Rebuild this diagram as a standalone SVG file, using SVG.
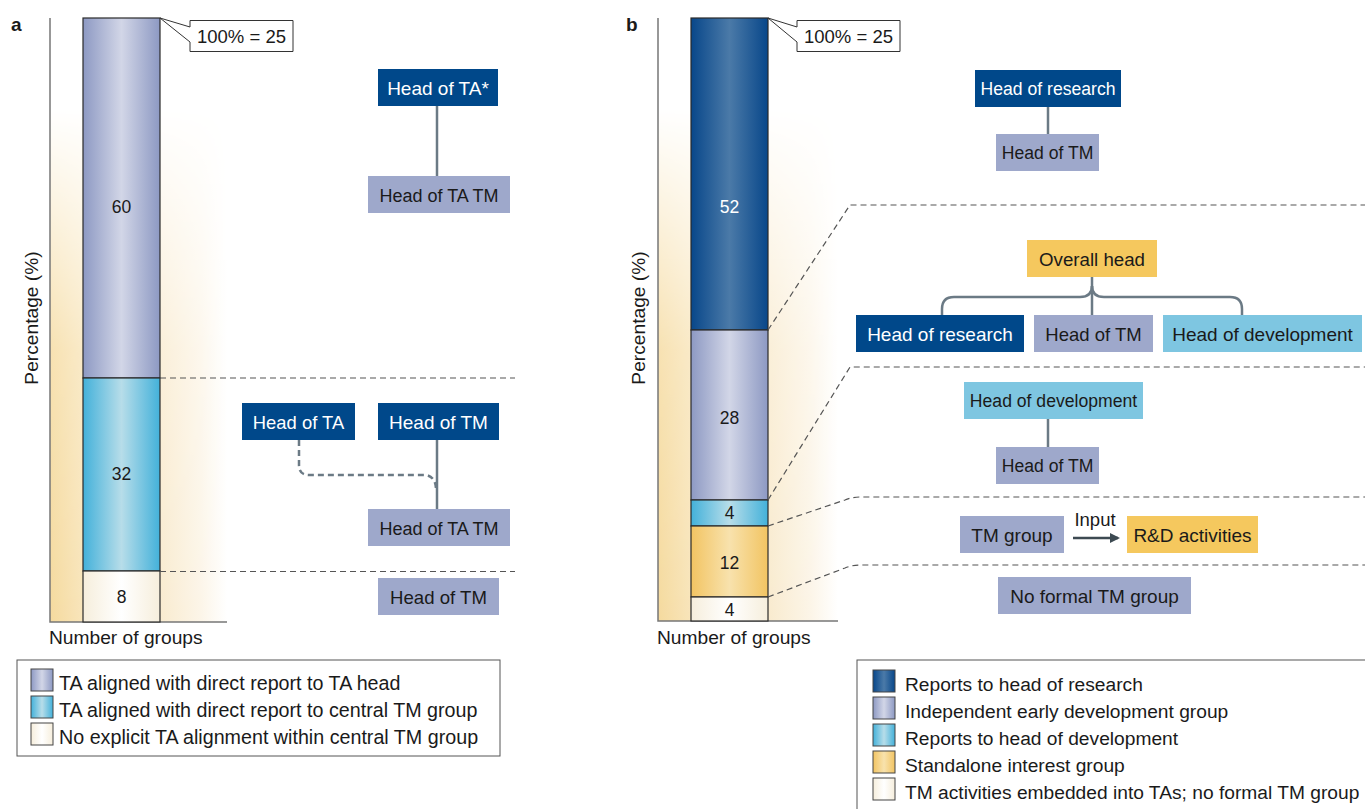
<svg xmlns="http://www.w3.org/2000/svg" width="1365" height="809" viewBox="0 0 1365 809">
<defs>
<style>
text{font-family:"Liberation Sans",Arial,sans-serif;fill:#1a1a1a}
.nt{font-size:19px;text-anchor:middle}
.sm{font-size:17.6px}
.wt{fill:#ffffff}
.num{font-size:17.5px;text-anchor:middle}
.lga{font-size:19.7px}
.lgb{font-size:19.2px}
.ax{font-size:19.2px}
.dk{fill:#00488a}
.lv{fill:#9ea8cb}
.cy{fill:#7ec6e1}
.ye{fill:#f5c85e}
.con{fill:none;stroke:#6b7a85;stroke-width:2.5}
.dash{fill:none;stroke:#555;stroke-width:1.2;stroke-dasharray:6 4}
.bar{stroke:#2a2a2a;stroke-width:1.2}
.axis{stroke:#777;stroke-width:1.5;fill:none}
.sw{stroke:#444;stroke-width:1}
</style>
<linearGradient id="gLv" x1="0" x2="1" y1="0" y2="0"><stop offset="0" stop-color="#8d99c3"/><stop offset="0.5" stop-color="#d2d6e7"/><stop offset="1" stop-color="#8d99c3"/></linearGradient>
<linearGradient id="gCy" x1="0" x2="1" y1="0" y2="0"><stop offset="0" stop-color="#43b1da"/><stop offset="0.5" stop-color="#b7dde9"/><stop offset="1" stop-color="#43b1da"/></linearGradient>
<linearGradient id="gDk" x1="0" x2="1" y1="0" y2="0"><stop offset="0" stop-color="#08478a"/><stop offset="0.5" stop-color="#4b7aa8"/><stop offset="1" stop-color="#08478a"/></linearGradient>
<linearGradient id="gYe" x1="0" x2="1" y1="0" y2="0"><stop offset="0" stop-color="#f2c462"/><stop offset="0.5" stop-color="#f8e2ad"/><stop offset="1" stop-color="#f2c462"/></linearGradient>
<linearGradient id="gCr" x1="0" x2="1" y1="0" y2="0"><stop offset="0" stop-color="#f6eedc"/><stop offset="0.5" stop-color="#ffffff"/><stop offset="1" stop-color="#f6eedc"/></linearGradient>
<linearGradient id="gBg" x1="0" x2="1" y1="0" y2="0"><stop offset="0" stop-color="#f5da9e"/><stop offset="0.19" stop-color="#f8e5bb"/><stop offset="0.62" stop-color="#f9ebcf"/><stop offset="0.85" stop-color="#fcf5e8"/><stop offset="1" stop-color="#ffffff"/></linearGradient>
<linearGradient id="gMask" x1="0" x2="0" y1="0" y2="1"><stop offset="0" stop-color="#000"/><stop offset="0.15" stop-color="#000"/><stop offset="0.55" stop-color="#ccc"/><stop offset="1" stop-color="#fff"/></linearGradient>
<mask id="mA" maskUnits="userSpaceOnUse" x="0" y="0" width="1365" height="809"><rect x="50" y="18" width="177" height="604" fill="url(#gMask)"/></mask>
<mask id="mB" maskUnits="userSpaceOnUse" x="0" y="0" width="1365" height="809"><rect x="658" y="18" width="180" height="603" fill="url(#gMask)"/></mask>
<marker id="arr" markerWidth="10" markerHeight="10" refX="8" refY="5" orient="auto" markerUnits="userSpaceOnUse"><path d="M0,0 L10,5 L0,10 Z" fill="#3d4a52"/></marker>
</defs>
<rect width="1365" height="809" fill="#ffffff"/>

<!-- Panel a chart -->
<g id="chart-a">
<rect x="50" y="18" width="177" height="604" fill="url(#gBg)" mask="url(#mA)"/>
<text x="11" y="31" style="font-size:19px;font-weight:bold">a</text>
<path class="axis" d="M50,18 V622 H227"/>
<rect class="bar" x="83" y="18" width="77" height="360" fill="url(#gLv)"/>
<rect class="bar" x="83" y="378" width="77" height="193" fill="url(#gCy)"/>
<rect class="bar" x="83" y="571" width="77" height="51" fill="url(#gCr)"/>
<text class="num" x="121.5" y="213">60</text>
<text class="num" x="121.5" y="480">32</text>
<text class="num" x="121.5" y="603">8</text>
<path d="M190,20.5 H293 V51.5 H190 V42 L160,18 L190,27 Z" fill="#fff" stroke="#333" stroke-width="1"/>
<text x="241.5" y="43" style="font-size:18.5px;text-anchor:middle">100% = 25</text>
<text class="ax" transform="translate(38,318) rotate(-90)" text-anchor="middle">Percentage (%)</text>
<text class="ax" x="49" y="644">Number of groups</text>
</g>

<!-- Panel b chart -->
<g id="chart-b">
<rect x="658" y="18" width="180" height="603" fill="url(#gBg)" mask="url(#mB)"/>
<text x="626" y="31" style="font-size:19px;font-weight:bold">b</text>
<path class="axis" d="M658,18 V621 H838"/>
<rect class="bar" x="691" y="18" width="77" height="312" fill="url(#gDk)"/>
<rect class="bar" x="691" y="330" width="77" height="170" fill="url(#gLv)"/>
<rect class="bar" x="691" y="500" width="77" height="26" fill="url(#gCy)"/>
<rect class="bar" x="691" y="526" width="77" height="71" fill="url(#gYe)"/>
<rect class="bar" x="691" y="597" width="77" height="24" fill="url(#gCr)"/>
<text class="num wt" x="729.5" y="213">52</text>
<text class="num" x="729.5" y="424">28</text>
<text class="num" x="729.5" y="519">4</text>
<text class="num" x="729.5" y="569">12</text>
<text class="num" x="729.5" y="616">4</text>
<path d="M797,20.5 H900 V51.5 H797 V42 L768,18 L797,27 Z" fill="#fff" stroke="#333" stroke-width="1"/>
<text x="848.5" y="43" style="font-size:18.5px;text-anchor:middle">100% = 25</text>
<text class="ax" transform="translate(645,318) rotate(-90)" text-anchor="middle">Percentage (%)</text>
<text class="ax" x="657" y="644">Number of groups</text>
</g>

<!-- Connectors -->
<g id="connectors">
<path class="dash" d="M160,378 H515"/>
<path class="dash" d="M160,571.5 H515"/>
<path class="con" d="M437,106 V176"/>
<path class="con" d="M437,440 V509"/>
<path class="con" style="stroke-dasharray:6 4" d="M299,440 V465 Q299,475 309,475 H426 Q436,477 436,490"/>
<path class="dash" d="M768,330 L850,205 H1365"/>
<path class="dash" d="M768,500 L850,367 H1365"/>
<path class="dash" d="M768,526 L845,500 Q852,497 860,497 H1365"/>
<path class="dash" d="M768,597 L845,568 Q852,565 860,565 H1365"/>
<path class="con" d="M1048,107 V134"/>
<path class="con" d="M1092,277 V315"/>
<path class="con" d="M1092,286 Q1092,297 1080,297 H954 Q942,297 942,309 V315"/>
<path class="con" d="M1092,286 Q1092,297 1104,297 H1230 Q1242,297 1242,309 V315"/>
<path class="con" d="M1048,419 V447"/>
<path d="M1073,538 H1118" stroke="#3d4a52" stroke-width="2.5" fill="none" marker-end="url(#arr)"/>
<text x="1095" y="526" style="font-size:18.5px;text-anchor:middle">Input</text>
</g>

<!-- Panel a nodes -->
<g id="a-headTAstar"><rect class="dk" x="378" y="69" width="120" height="37"/><text class="nt wt" x="438" y="94.5">Head of TA*</text></g>
<g id="a-headTATM1"><rect class="lv" x="368" y="176" width="142" height="37"/><text class="nt" x="439" y="201.5" style="font-size:18px">Head of TA TM</text></g>
<g id="a-headTA"><rect class="dk" x="242" y="403" width="113" height="37"/><text class="nt wt" x="298.5" y="428.5" style="font-size:18.4px">Head of TA</text></g>
<g id="a-headTM1"><rect class="dk" x="378" y="403" width="121" height="37"/><text class="nt wt" x="438.5" y="428.5">Head of TM</text></g>
<g id="a-headTATM2"><rect class="lv" x="368" y="509" width="142" height="37"/><text class="nt" x="439" y="534.5" style="font-size:18px">Head of TA TM</text></g>
<g id="a-headTM2"><rect class="lv" x="378" y="578" width="121" height="37"/><text class="nt" x="438.5" y="603.5" style="font-size:18.6px">Head of TM</text></g>

<!-- Panel b nodes -->
<g id="b-research1"><rect class="dk" x="975" y="70" width="146" height="37"/><text class="nt sm wt" x="1048" y="95">Head of research</text></g>
<g id="b-tm1"><rect class="lv" x="996" y="134" width="103" height="37"/><text class="nt sm" x="1047.5" y="159">Head of TM</text></g>
<g id="b-overall"><rect class="ye" x="1027" y="240" width="130" height="37"/><text class="nt" x="1092" y="265.5" style="font-size:18.7px">Overall head</text></g>
<g id="b-research2"><rect class="dk" x="856" y="315" width="168" height="37"/><text class="nt wt" x="940" y="340.5">Head of research</text></g>
<g id="b-tm2"><rect class="lv" x="1034" y="315" width="119" height="37"/><text class="nt" x="1093.5" y="340.5" style="font-size:18.5px">Head of TM</text></g>
<g id="b-dev1"><rect class="cy" x="1163" y="315" width="199" height="37"/><text class="nt" x="1262.5" y="340.5">Head of development</text></g>
<g id="b-dev2"><rect class="cy" x="964" y="382" width="179" height="37"/><text class="nt sm" x="1053.5" y="407">Head of development</text></g>
<g id="b-tm3"><rect class="lv" x="996" y="447" width="103" height="37"/><text class="nt sm" x="1047.5" y="472">Head of TM</text></g>
<g id="b-tmgroup"><rect class="lv" x="960" y="516" width="104" height="37"/><text class="nt" x="1012" y="541.5">TM group</text></g>
<g id="b-rd"><rect class="ye" x="1127" y="516" width="131" height="37"/><text class="nt" x="1192.5" y="541.5">R&amp;D activities</text></g>
<g id="b-noformal"><rect class="lv" x="998" y="577" width="193" height="37"/><text class="nt" x="1094.5" y="602.5">No formal TM group</text></g>

<!-- Legends -->
<g id="legend-a">
<rect x="17" y="660" width="483" height="96" fill="#fff" stroke="#555" stroke-width="1"/>
<rect class="sw" x="31" y="669" width="22" height="22" fill="url(#gLv)"/>
<rect class="sw" x="31" y="696" width="22" height="22" fill="url(#gCy)"/>
<rect class="sw" x="31" y="723" width="22" height="22" fill="url(#gCr)"/>
<text class="lga" x="59" y="690">TA aligned with direct report to TA head</text>
<text class="lga" x="59" y="717">TA aligned with direct report to central TM group</text>
<text class="lga" x="59" y="744">No explicit TA alignment within central TM group</text>
</g>
<g id="legend-b">
<rect x="857" y="660" width="520" height="160" fill="#fff" stroke="#555" stroke-width="1"/>
<rect class="sw" x="873" y="670" width="22" height="22" fill="url(#gDk)"/>
<rect class="sw" x="873" y="697" width="22" height="22" fill="url(#gLv)"/>
<rect class="sw" x="873" y="724" width="22" height="22" fill="url(#gCy)"/>
<rect class="sw" x="873" y="751" width="22" height="22" fill="url(#gYe)"/>
<rect class="sw" x="873" y="778" width="22" height="22" fill="url(#gCr)"/>
<text class="lgb" x="905" y="691">Reports to head of research</text>
<text class="lgb" x="905" y="718">Independent early development group</text>
<text class="lgb" x="905" y="745">Reports to head of development</text>
<text class="lgb" x="905" y="772">Standalone interest group</text>
<text class="lgb" x="905" y="799">TM activities embedded into TAs; no formal TM group</text>
</g>
</svg>
